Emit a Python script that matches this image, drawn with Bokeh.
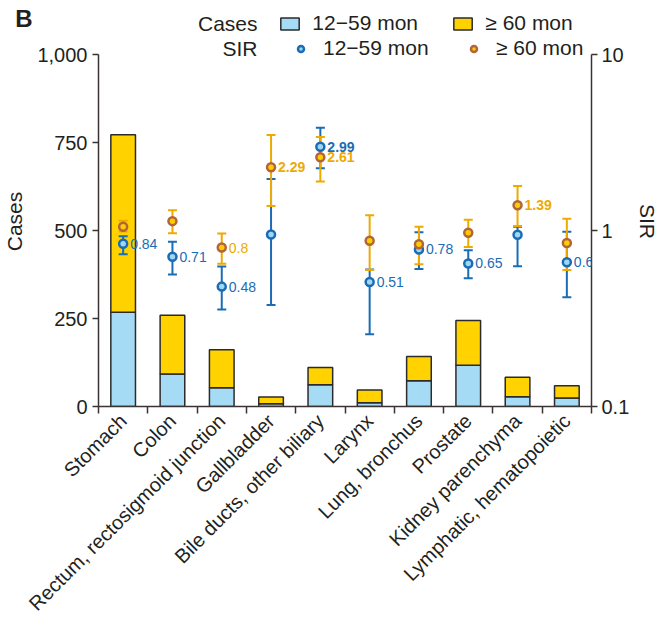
import numpy as np
from bokeh.plotting import figure
from bokeh.layouts import column
from bokeh.models import (ColumnDataSource, Range1d, LogScale, LogAxis, FixedTicker,
                          NumeralTickFormatter, CustomJSTickFormatter, Legend, LegendItem, Label,
                          LabelSet)
from bokeh.embed import file_html
from bokeh.resources import INLINE
from bokeh.core.properties import value

# ---------------- data ----------------
categories = ["Stomach", "Colon", "Rectum, rectosigmoid junction", "Gallbladder",
              "Bile ducts, other biliary", "Larynx", "Lung, bronchus", "Prostate",
              "Kidney parenchyma", "Lymphatic, hematopoietic"]
cases_12_59 = [268, 92, 53, 8, 62, 11, 73, 117, 28, 24]
cases_60 = [504, 167, 108, 19, 49, 36, 69, 127, 55, 35]

sir_12_59 = [0.84, 0.71, 0.48, 0.95, 2.99, 0.51, 0.78, 0.65, 0.945, 0.66]
sir_12_59_lo = [0.733, 0.562, 0.356, 0.377, 2.26, 0.257, 0.605, 0.535, 0.626, 0.417]
sir_12_59_hi = [0.928, 0.862, 0.624, 1.96, 3.83, 0.60, 0.978, 0.772, 1.05, 0.983]
sir_12_59_label = ["0.84", "0.71", "0.48", "", "2.99", "0.51", "0.78", "0.65", "", "0.66"]
sir_12_59_bold = [False, False, False, False, True, False, False, False, False, False]

sir_60 = [1.05, 1.13, 0.80, 2.29, 2.61, 0.874, 0.835, 0.97, 1.39, 0.85]
sir_60_lo = [0.987, 0.965, 0.648, 1.38, 1.90, 0.597, 0.643, 0.807, 1.06, 0.597]
sir_60_hi = [1.136, 1.305, 0.961, 3.49, 3.40, 1.22, 1.05, 1.15, 1.79, 1.166]
sir_60_label = ["", "", "0.8", "2.29", "2.61", "", "", "", "1.39", ""]
sir_60_bold = [False, False, False, True, True, False, False, False, True, False]

left_ticks = [0, 250, 500, 750, 1000]
right_ticks = [0.1, 1, 10]
cases_max = 1000
sir_min, sir_max = 0.1, 10

# ---------------- styles / layout ----------------
FONT = "Liberation Sans"
AXIS_C = "#3a3333"
BLUE_BAR = "#a6dbf5"
YEL_BAR = "#ffd200"
BLUE = "#1a6cb5"
BLUE_FILL = "#9fd6f2"
ORANGE = "#eeaa00"
ORANGE_EDGE = "#b0653a"
ORANGE_FILL = "#ffcc00"
TEXT_C = "#231f20"

TOTAL_W = 649
HEADER_H = 36
LEFT_B = 90
FRAME_W = 493
AXIS_H = 352          # pixel height of the drawn axes (0..1000)
EXTRA_TOP = 18        # frame space above the axes, holds the second legend row
FRAME_H = AXIS_H + EXTRA_TOP

n = len(categories)
xc = np.arange(n)
total = np.array(cases_12_59) + np.array(cases_60)

src = ColumnDataSource(dict(
    x=xc, b0=np.zeros(n), b1=np.array(cases_12_59), b2=total,
    s1=sir_12_59, s1lo=sir_12_59_lo, s1hi=sir_12_59_hi,
    s2=sir_60, s2lo=sir_60_lo, s2hi=sir_60_hi,
))

y_end = cases_max * FRAME_H / AXIS_H
log_span = np.log10(sir_max / sir_min)
sir_end = sir_min * 10 ** (log_span * FRAME_H / AXIS_H)

p = figure(frame_width=FRAME_W, frame_height=FRAME_H, output_backend="svg", toolbar_location=None,
           x_range=Range1d(-0.5, n - 0.5), y_range=Range1d(0, y_end),
           min_border_left=LEFT_B, min_border_right=10, min_border_top=0, min_border_bottom=0,
           background_fill_color="white", border_fill_color="white")
p.outline_line_color = None
p.grid.visible = False
p.extra_y_ranges = {"sir": Range1d(sir_min, sir_end)}
p.extra_y_scales = {"sir": LogScale()}

BAR_KW = dict(width=0.5, line_color="#2b2b2b", line_width=1.5)
r_b1 = p.vbar(x="x", bottom="b0", top="b1", source=src, fill_color=BLUE_BAR, **BAR_KW)
r_b2 = p.vbar(x="x", bottom="b1", top="b2", source=src, fill_color=YEL_BAR, **BAR_KW)

# CI lines + caps
for lo, hi, c in (("s1lo", "s1hi", BLUE), ("s2lo", "s2hi", ORANGE)):
    p.segment(x0="x", y0=lo, x1="x", y1=hi, source=src, y_range_name="sir",
              line_color=c, line_width=2)
    for col in (lo, hi):
        p.scatter(x="x", y=col, source=src, y_range_name="sir", marker="dash", size=9,
                  line_color=c, line_width=2)

r_p1 = p.scatter(x="x", y="s1", source=src, y_range_name="sir", marker="circle", size=8,
                 fill_color=BLUE_FILL, line_color=BLUE, line_width=2.5)
r_p2 = p.scatter(x="x", y="s2", source=src, y_range_name="sir", marker="circle", size=8,
                 fill_color=ORANGE_FILL, line_color=ORANGE_EDGE, line_width=2.5)

# value labels
def add_labels(vals, labels, bolds, color):
    for bold in (False, True):
        idx = [i for i in range(n) if labels[i] and bolds[i] == bold]
        if not idx:
            continue
        ls = ColumnDataSource(dict(x=[int(xc[i]) for i in idx], y=[vals[i] for i in idx],
                                   t=[labels[i] for i in idx]))
        p.add_layout(LabelSet(x="x", y="y", text="t", source=ls, y_range_name="sir",
                              x_offset=7, text_font=value(FONT), text_font_size="14px",
                              text_color=color,
                              text_font_style="bold" if bold else "normal",
                              text_align="left", text_baseline="middle"))

add_labels(sir_12_59, sir_12_59_label, sir_12_59_bold, BLUE)
add_labels(sir_60, sir_60_label, sir_60_bold, ORANGE)

# axes
xa = p.xaxis[0]
xa.ticker = FixedTicker(ticks=list(xc), minor_ticks=list(np.arange(n + 1) - 0.5))
xa.major_label_overrides = {int(i): c for i, c in zip(xc, categories)}
xa.major_label_orientation = np.pi / 4
xa.major_tick_out = 0
xa.major_tick_in = 0
xa.minor_tick_out = 7
xa.minor_tick_in = 0
xa.minor_tick_line_color = AXIS_C
xa.minor_tick_line_width = 1.5
xa.axis_line_color = AXIS_C
xa.axis_line_width = 1.5
xa.major_label_text_font = FONT
xa.major_label_text_font_size = "20px"
xa.major_label_text_color = TEXT_C
xa.major_label_standoff = 4

ya = p.yaxis[0]
ya.ticker = FixedTicker(ticks=left_ticks)
ya.formatter = NumeralTickFormatter(format="0,0")
ya.axis_label = "Cases"
ya.bounds = (0, cases_max)

ra = LogAxis(y_range_name="sir", ticker=FixedTicker(ticks=right_ticks),
             formatter=CustomJSTickFormatter(code="return tick.toString();"),
             axis_label="SIR", bounds=(sir_min, sir_max))
p.add_layout(ra, "right")

for ax in (ya, ra):
    ax.major_tick_out = 6
    ax.major_tick_in = 0
    ax.minor_tick_line_color = None
    ax.axis_line_color = AXIS_C
    ax.axis_line_width = 1.5
    ax.major_tick_line_color = AXIS_C
    ax.major_tick_line_width = 1.5
    ax.major_label_text_font = FONT
    ax.major_label_text_font_size = "20px"
    ax.major_label_text_color = TEXT_C
    ax.axis_label_text_font = FONT
    ax.axis_label_text_font_size = "21px"
    ax.axis_label_text_font_style = "normal"
    ax.axis_label_text_color = TEXT_C
ya.major_label_standoff = 5
ya.axis_label_standoff = 8
ra.major_label_standoff = 4
ra.axis_label_standoff = 4

# ---------------- legend rows ----------------
LEG_KW = dict(orientation="horizontal", border_line_color=None, background_fill_alpha=0,
              padding=0, margin=0, spacing=19, glyph_width=23, glyph_height=15,
              label_standoff=11, label_width=120, label_text_font=FONT,
              label_text_font_size="21px", label_text_color=TEXT_C,
              label_text_baseline="middle", label_height=24)
TXT_KW = dict(x_units="screen", y_units="screen", text_baseline="middle", text_font=FONT,
              text_color=TEXT_C)

# header: panel letter (as a horizontal axis label) and the "Cases" legend row
h = figure(frame_width=TOTAL_W - LEFT_B, frame_height=HEADER_H, output_backend="svg",
           toolbar_location=None, x_axis_type=None,
           min_border_left=LEFT_B, min_border_right=0, min_border_top=0, min_border_bottom=0,
           x_range=Range1d(100, 101), y_range=Range1d(100, 101),
           background_fill_color="white", border_fill_color="white")
h.outline_line_color = None
h.grid.visible = False
hy = h.yaxis[0]
hy.ticker = FixedTicker(ticks=[])
hy.axis_line_color = None
hy.axis_line_alpha = 0
hy.major_tick_line_color = None
hy.minor_tick_line_color = None
hy.axis_label = "B"
hy.axis_label_orientation = "horizontal"
hy.axis_label_text_font = FONT
hy.axis_label_text_font_size = "24px"
hy.axis_label_text_font_style = "bold"
hy.axis_label_text_color = TEXT_C
hy.axis_label_standoff = 66

# legend-only renderers for the header (hidden; the legend still shows their swatches)
hb1 = h.vbar(x="x", bottom="b0", top="b1", source=src, fill_color=BLUE_BAR, **BAR_KW)
hb2 = h.vbar(x="x", bottom="b1", top="b2", source=src, fill_color=YEL_BAR, **BAR_KW)
hb1.visible = False
hb2.visible = False
ROW1_Y = HEADER_H - 23
h.add_layout(Legend(items=[LegendItem(label="12\u221259 mon", renderers=[hb1]),
                           LegendItem(label="\u2265 60 mon", renderers=[hb2])],
                    location=(191, ROW1_Y - 12), **LEG_KW))
h.add_layout(Label(x=159, y=ROW1_Y, text="Cases", text_align="right",
                   text_font_size="21px", **TXT_KW))

# second row ("SIR") inside the main frame, above the axes
ROW2_Y = FRAME_H - 12
p.add_layout(Legend(items=[LegendItem(label="12\u221259 mon", renderers=[r_p1]),
                           LegendItem(label="\u2265 60 mon", renderers=[r_p2])],
                    location=(191, ROW2_Y - 12), **LEG_KW))
p.add_layout(Label(x=159, y=ROW2_Y, text="SIR", text_align="right", text_font_size="21px",
                   **TXT_KW))

layout = column(h, p, spacing=0)
open("out.html", "w").write(file_html(layout, INLINE))
